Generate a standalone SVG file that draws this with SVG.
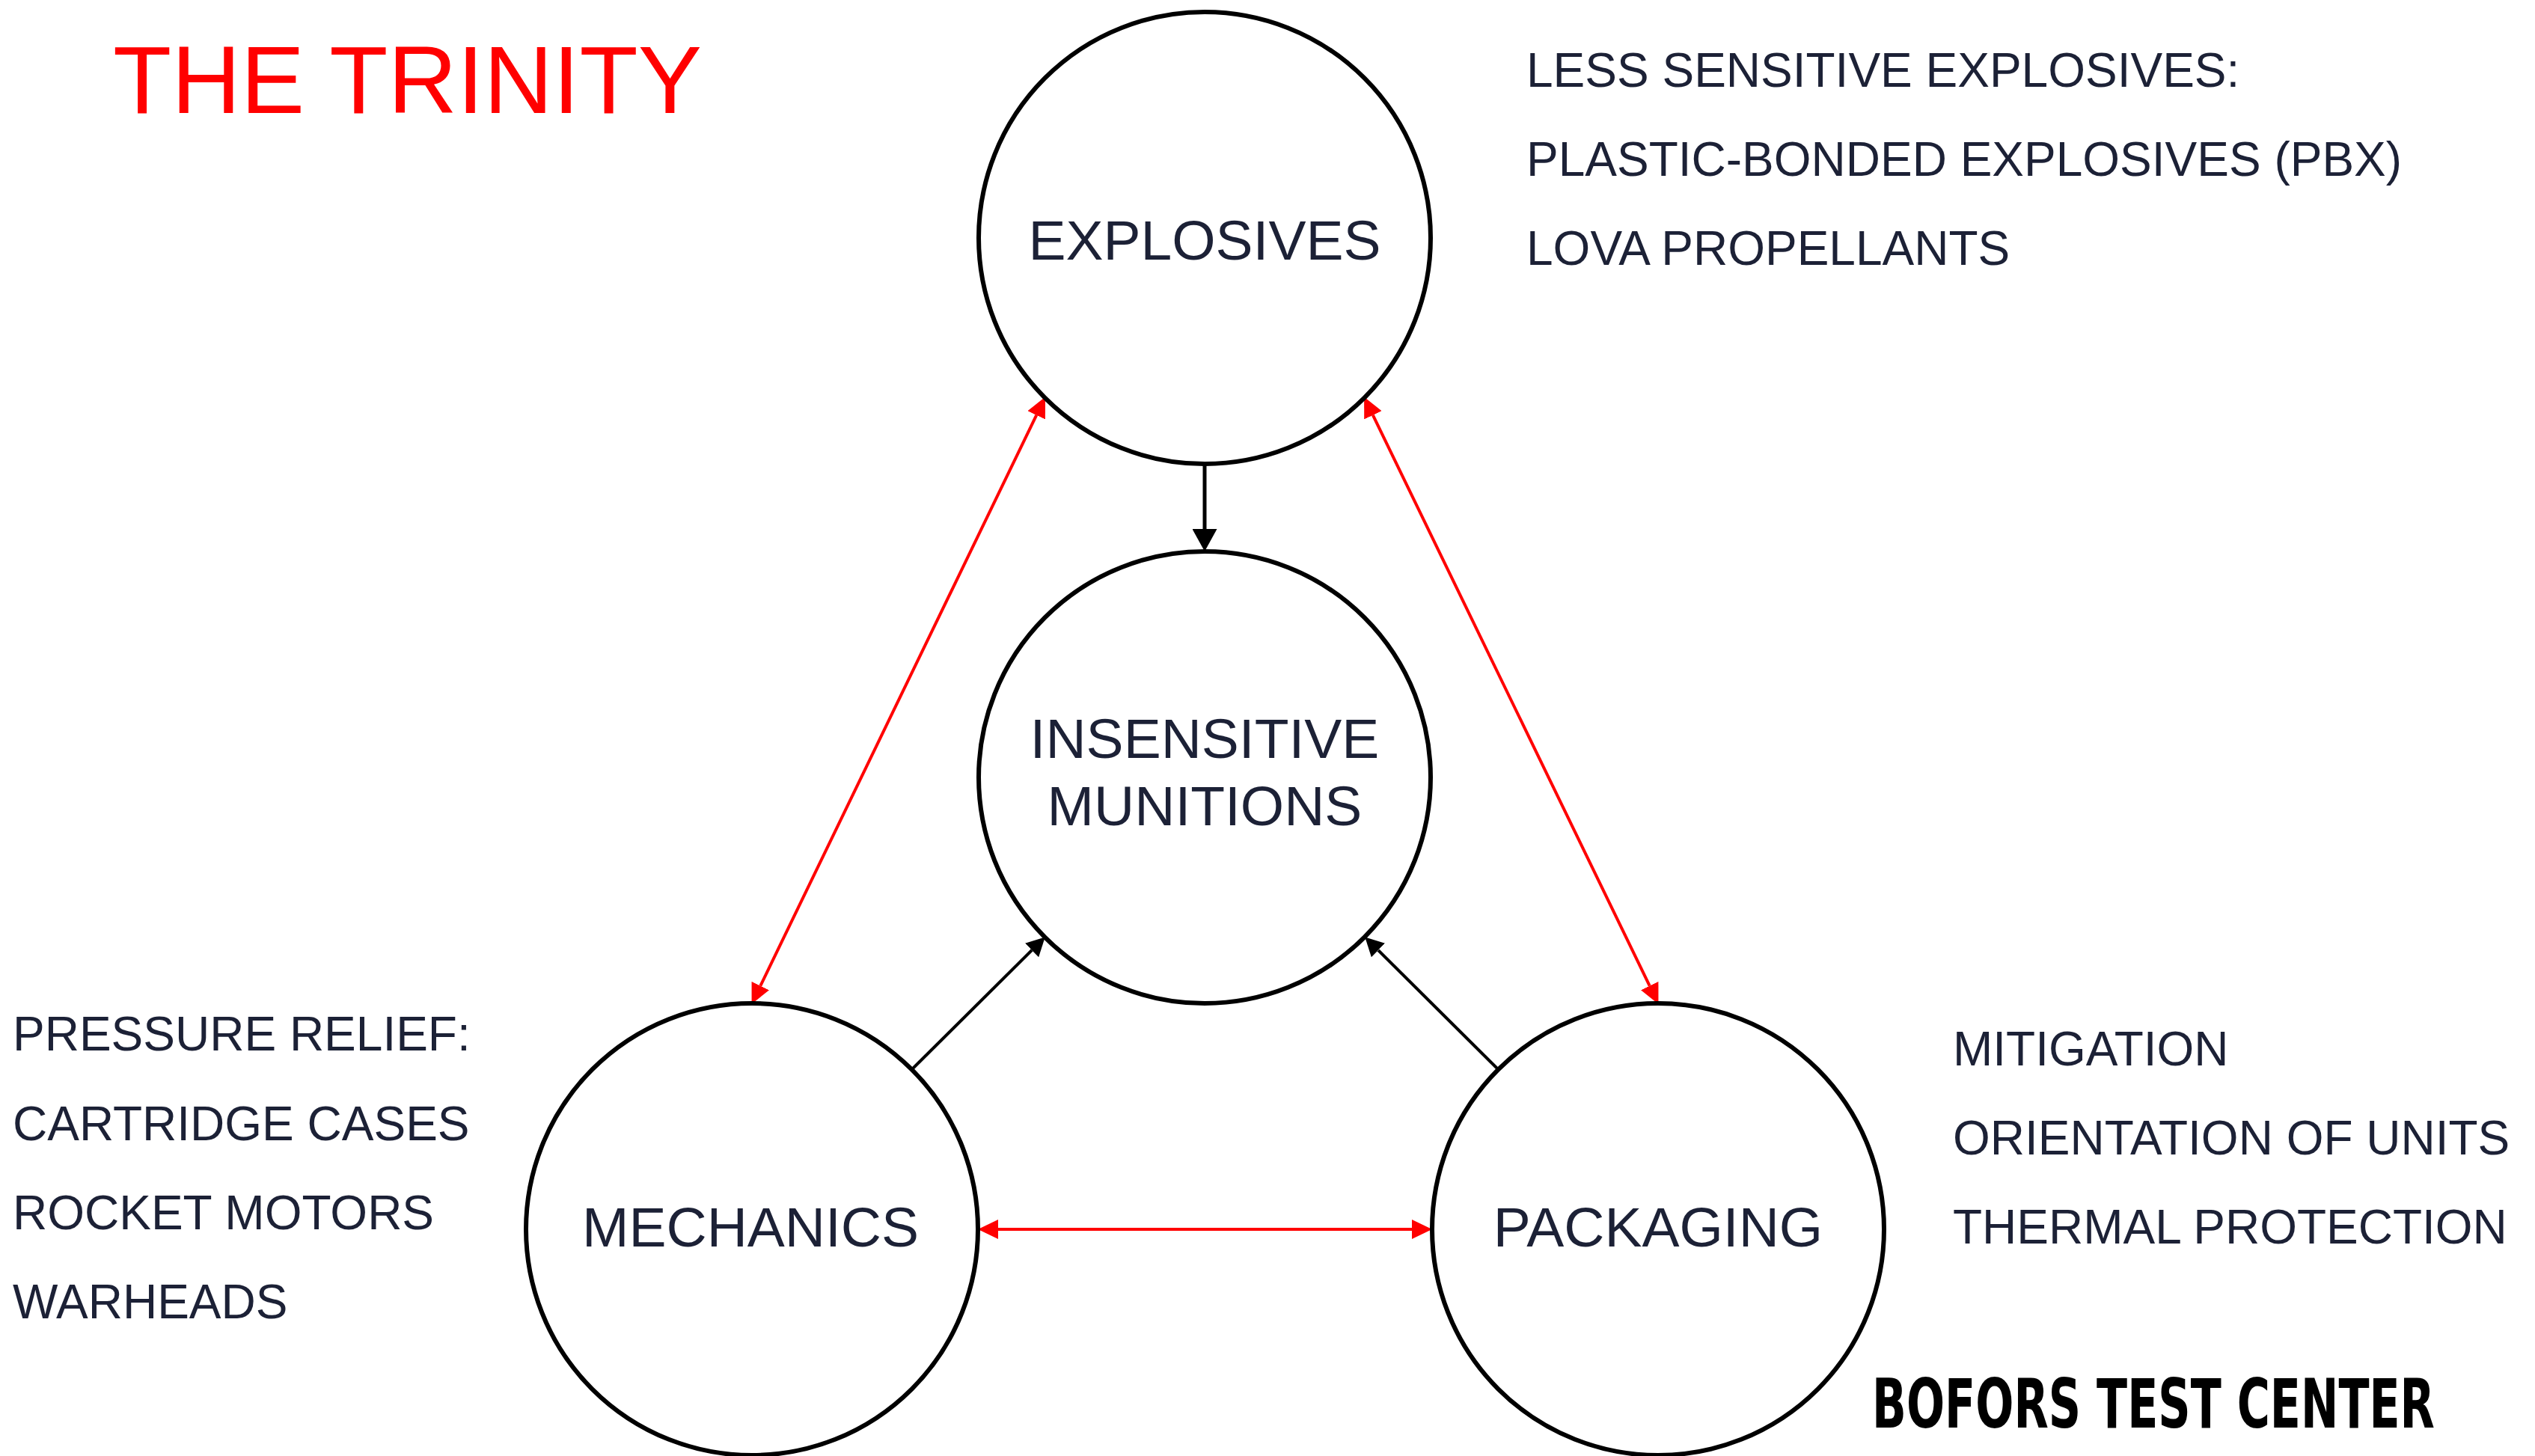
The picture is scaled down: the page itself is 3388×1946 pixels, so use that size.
<svg xmlns="http://www.w3.org/2000/svg" width="3388" height="1946" viewBox="0 0 3388 1946">
<style>
.node circle{fill:#ffffff;stroke:#000000;stroke-width:6}
.lbl{font-family:"Liberation Sans",Arial,sans-serif;font-size:75px;fill:#1c2136;text-anchor:middle}
.side{font-family:"Liberation Sans",Arial,sans-serif;font-size:64px;fill:#1c2136}
.blk{stroke:#000000;stroke-width:4;fill:none}
.red{stroke:#ff0000;stroke-width:4;fill:none}
</style>
<defs>
<marker id="ar" markerUnits="userSpaceOnUse" markerWidth="27" markerHeight="26" refX="0" refY="13" orient="auto-start-reverse"><path d="M0,0 L27,13 L0,26 z" fill="#ff0000"/></marker>
<marker id="ab" markerUnits="userSpaceOnUse" markerWidth="25" markerHeight="26" refX="0" refY="13" orient="auto"><path d="M0,0 L25,13 L0,26 z" fill="#000000"/></marker>
<marker id="abL" markerUnits="userSpaceOnUse" markerWidth="30" markerHeight="33" refX="0" refY="16.5" orient="auto"><path d="M0,0 L30,16.5 L0,33 z" fill="#000000"/></marker>
</defs>
<rect width="3388" height="1946" fill="#ffffff"/>
<text x="151" y="151" font-family="'Liberation Sans',Arial,sans-serif" font-size="128" fill="#ff0000">THE TRINITY</text>
<g id="connectors">
<path class="blk" d="M1610,621 L1610,707" style="stroke-width:5" marker-end="url(#abL)"/>
<path class="blk" d="M1218.5,1429.5 L1379,1270" marker-end="url(#ab)"/>
<path class="blk" d="M2002.5,1429.5 L1842,1270" marker-end="url(#ab)"/>
<path class="red" d="M1385.2,554.9 L1016.3,1317.6" marker-start="url(#ar)" marker-end="url(#ar)"/>
<path class="red" d="M1834.9,554.9 L2204.7,1317.6" marker-start="url(#ar)" marker-end="url(#ar)"/>
<path class="red" d="M1334,1643 L1887,1643" marker-start="url(#ar)" marker-end="url(#ar)"/>
</g>
<g id="explosives" class="node"><circle cx="1610" cy="318" r="302"/><text class="lbl" x="1610" y="347">EXPLOSIVES</text></g>
<g id="insensitive-munitions" class="node"><circle cx="1610" cy="1039" r="302"/><text class="lbl" x="1610" y="1013">INSENSITIVE</text><text class="lbl" x="1610" y="1103">MUNITIONS</text></g>
<g id="mechanics" class="node"><circle cx="1005" cy="1643" r="302"/><text class="lbl" x="1003" y="1666">MECHANICS</text></g>
<g id="packaging" class="node"><circle cx="2216" cy="1643" r="302"/><text class="lbl" x="2216" y="1666">PACKAGING</text></g>
<g id="explosives-notes">
<text class="side" x="2040" y="116">LESS SENSITIVE EXPLOSIVES:</text>
<text class="side" x="2040" y="235">PLASTIC-BONDED EXPLOSIVES (PBX)</text>
<text class="side" x="2040" y="354">LOVA PROPELLANTS</text>
</g>
<g id="mechanics-notes">
<text class="side" x="17" y="1404">PRESSURE RELIEF:</text>
<text class="side" x="17" y="1524">CARTRIDGE CASES</text>
<text class="side" x="17" y="1643">ROCKET MOTORS</text>
<text class="side" x="17" y="1762">WARHEADS</text>
</g>
<g id="packaging-notes">
<text class="side" x="2610" y="1424">MITIGATION</text>
<text class="side" x="2610" y="1543">ORIENTATION OF UNITS</text>
<text class="side" x="2610" y="1662">THERMAL PROTECTION</text>
</g>
<text x="2502" y="1908" font-family="'DejaVu Sans Condensed','DejaVu Sans',sans-serif" font-weight="bold" font-size="90" fill="#000000" textLength="752" lengthAdjust="spacingAndGlyphs">BOFORS TEST CENTER</text>
</svg>
